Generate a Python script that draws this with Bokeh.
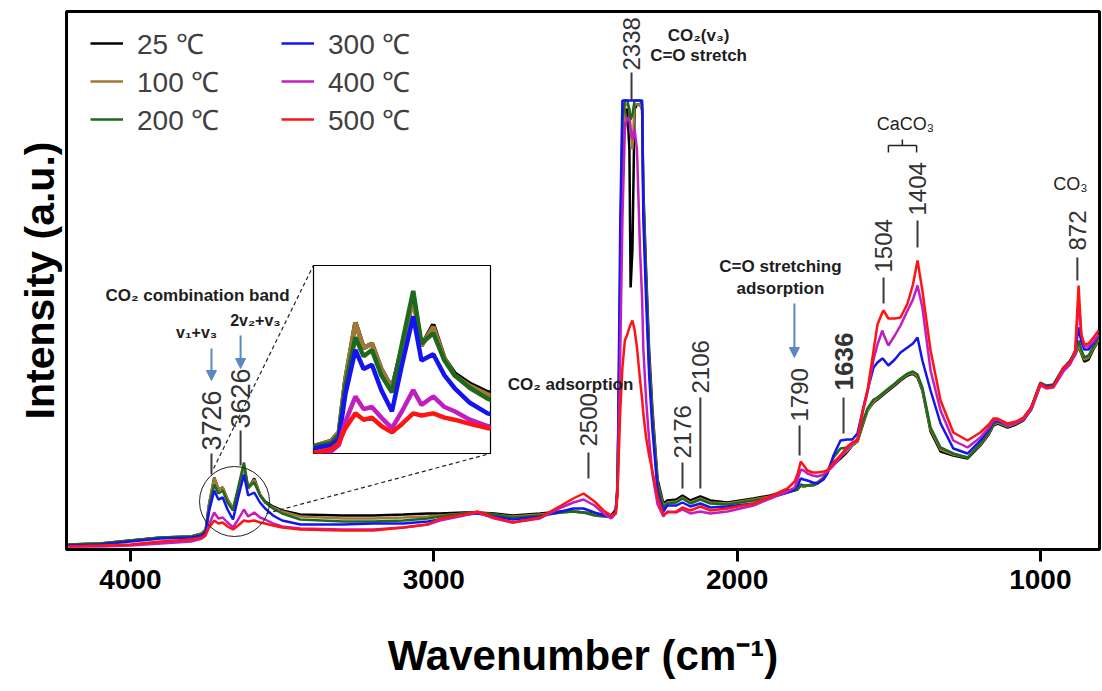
from bokeh.plotting import figure
from bokeh.models import Range1d, Legend, LegendItem, Label, Arrow, NormalHead, FixedTicker
from bokeh.layouts import column
from bokeh.embed import file_html
from bokeh.resources import INLINE

# ---------------- data ----------------
wavenumber = [4205, 4100, 4000, 3900, 3800, 3765, 3752, 3741, 3724, 3710, 3696, 3680, 3662, 3645, 3626, 3612, 3592, 3573, 3556, 3530, 3500,
              3440, 3300, 3200, 3100, 3020, 2980, 2900, 2856, 2800, 2740, 2650, 2580, 2540, 2506, 2470, 2440, 2415, 2400,
              2394, 2385, 2378, 2370, 2362, 2355, 2351, 2345, 2338, 2330, 2320, 2313, 2309, 2300, 2290, 2279, 2262, 2243,
              2230, 2200, 2180, 2154, 2121, 2088, 2032, 1946, 1890, 1834, 1810, 1800, 1790, 1780, 1768, 1750, 1735, 1715, 1702, 1682, 1659, 1636, 1620, 1603,
              1585, 1570, 1550, 1537, 1521, 1517, 1501, 1480, 1461, 1438, 1420, 1405, 1389, 1362, 1329, 1287, 1240, 1198, 1170, 1155, 1141, 1108, 1080, 1056, 1030, 1000, 980, 957, 924, 902, 885, 874, 865, 855, 841, 825, 808]

t25 = [5, 6, 9, 12, 13, 16, 20, 45, 72, 60, 62, 50, 41, 60, 84, 61, 71, 55, 48, 43, 39,
       35, 34, 34, 35, 36, 36, 37, 37, 36, 34, 36, 38, 38, 37, 36, 35, 34, 40,
       66, 250, 400, 440, 440, 400, 262, 300, 440, 445, 445, 440, 360, 280, 200, 140, 70, 46,
       49, 50, 54, 49, 53, 49, 47, 51, 54, 59, 60, 61, 64, 63, 64, 65, 67, 72, 79, 85, 91, 98, 104, 108,
       125, 139, 147, 150, 154, 155, 159, 164, 169, 174, 176, 172, 159, 118, 98, 94, 91, 104, 115, 124, 126, 122, 125, 129, 140, 165, 162, 163, 180, 187, 195, 203, 196, 188, 190, 200, 209]
t100 = [5, 6, 9, 12, 13, 16, 20, 45, 72, 60, 62, 50, 41, 60, 83, 61, 70, 55, 47, 42, 38,
        33, 31, 31, 32, 33, 34, 36, 37, 35, 33, 35, 37, 38, 37, 35, 34, 33, 38,
        62, 260, 410, 445, 445, 440, 420, 400, 445, 445, 445, 440, 350, 270, 190, 135, 66, 44,
        47, 48, 52, 47, 51, 47, 46, 50, 53, 58, 60, 61, 64, 63, 64, 65, 67, 72, 79, 86, 93, 99, 104, 108,
        126, 139, 148, 151, 155, 156, 160, 165, 170, 175, 177, 173, 160, 120, 100, 95, 92, 105, 116, 125, 127, 123, 126, 130, 141, 166, 163, 164, 181, 188, 196, 204, 197, 190, 192, 201, 210]
t200 = [5, 6, 9, 12, 13, 15, 19, 42, 65, 56, 59, 47, 39, 62, 87, 62, 67, 54, 47, 41, 36,
        30, 28, 28, 29, 31, 33, 36, 37, 35, 32, 34, 37, 38, 37, 34, 33, 33, 38,
        60, 280, 430, 449, 449, 440, 430, 435, 449, 449, 449, 445, 345, 265, 185, 130, 64, 42,
        46, 47, 51, 46, 50, 46, 45, 49, 52, 57, 59, 60, 65, 64, 64, 64, 66, 71, 78, 92, 101, 102, 106, 110,
        128, 141, 150, 152, 156, 157, 161, 166, 171, 176, 178, 175, 162, 122, 102, 96, 92, 106, 117, 126, 128, 124, 127, 131, 142, 167, 164, 165, 182, 189, 197, 209, 200, 192, 194, 203, 212]
t300 = [4, 5, 8, 11, 12, 14, 17, 38, 59, 50, 52, 40, 30, 52, 75, 54, 57, 47, 41, 34, 29,
        25, 25, 26, 26, 28, 30, 35, 36, 33, 30, 33, 38, 41, 41, 37, 34, 32, 40,
        60, 330, 449, 449, 449, 449, 449, 449, 449, 449, 449, 449, 330, 250, 175, 120, 58, 38,
        44, 44, 47, 43, 46, 42, 43, 46, 52, 57, 60, 64, 71, 70, 69, 67, 66, 70, 76, 94, 109, 110, 110, 116,
        140, 159, 182, 187, 191, 190, 184, 190, 197, 202, 206, 212, 189, 159, 126, 101, 96, 109, 120, 128, 129, 125, 127, 131, 142, 166, 163, 164, 181, 188, 199, 222, 208, 200, 200, 207, 214]
t400 = [3, 3, 4, 6, 8, 11, 14, 25, 37, 31, 32, 27, 22, 30, 40, 33, 37, 32, 30, 26, 23,
        21, 20, 20, 22, 25, 29, 34, 37, 31, 27, 31, 42, 47, 50, 44, 36, 31, 36,
        55, 200, 330, 420, 432, 430, 420, 410, 420, 400, 300, 250, 200, 150, 110, 75, 45, 33,
        38, 37, 40, 36, 38, 36, 38, 44, 51, 58, 62, 70, 80, 79, 76, 74, 73, 75, 78, 84, 92, 101, 106, 110,
        138, 157, 190, 205, 219, 215, 204, 214, 224, 239, 250, 264, 242, 179, 139, 109, 102, 112, 122, 129, 130, 124, 127, 130, 140, 164, 161, 162, 178, 185, 196, 249, 215, 203, 203, 208, 215]
t500 = [3, 4, 5, 8, 10, 12, 15, 22, 29, 26, 27, 23, 20, 24, 29, 28, 29, 27, 26, 24, 22,
        20, 19, 19, 22, 25, 31, 35, 38, 32, 27, 32, 44, 51, 56, 48, 39, 34, 36,
        59, 140, 182, 209, 215, 222, 225, 229, 220, 202, 170, 150, 136, 112, 94, 78, 52, 35,
        37, 38, 42, 39, 43, 39, 41, 46, 53, 61, 68, 76, 88, 84, 79, 77, 77, 78, 79, 87, 94, 103, 107, 109,
        140, 159, 199, 225, 237, 239, 231, 231, 232, 246, 265, 289, 259, 199, 149, 117, 109, 117, 125, 131, 131, 126, 128, 132, 142, 166, 162, 163, 182, 187, 199, 264, 215, 205, 206, 212, 219]

series_names = ["25 \u2103", "100 \u2103", "200 \u2103", "300 \u2103", "400 \u2103", "500 \u2103"]
series_values = [t25, t100, t200, t300, t400, t500]
series_colors = ["#000000", "#a07838", "#1d6a1d", "#1414f0", "#c01ec0", "#ff1414"]
x_ticks = [4000, 3000, 2000, 1000]

peak_labels = ["3726", "3626", "2500", "2338", "2176", "2106", "1790", "1636", "1504", "1404", "872"]

# ---------------- annotation positions (layout) ----------------
peak_x = [3733, 3637, 2490, 2348, 2180, 2121, 1794, 1649, 1517, 1405, 878]
peak_line_y0 = [75, 84, 71, 449, 61, 61, 94, 116, 246, 302, 269]
peak_line_y1 = [96, 119, 97, 477, 87, 152, 124, 152, 272, 329, 292]
peak_text_y = [99, 121, 103, 479, 91, 156, 128, 159, 277, 334, 299]
peak_font = ["27px", "27px", "24px", "24px", "24px", "24px", "24px", "26px", "24px", "24px", "24px"]

p = figure(width=1102, height=691, x_range=Range1d(4211, 805), y_range=Range1d(0, 538),
           output_backend="svg", toolbar_location=None,
           min_border_left=66, min_border_right=3, min_border_top=11, min_border_bottom=142)
p.background_fill_color = "white"
p.border_fill_color = "white"
p.outline_line_color = "black"
p.outline_line_width = 3
p.grid.visible = False

p.xaxis.ticker = FixedTicker(ticks=x_ticks)
p.xaxis.minor_tick_line_color = None
p.xaxis.major_tick_in = 0
p.xaxis.major_tick_out = 12
p.xaxis.major_tick_line_width = 3
p.xaxis.axis_line_width = 3
p.xaxis.major_label_standoff = 8
p.xaxis.major_label_text_font = "Liberation Sans"
p.xaxis.major_label_text_font_style = "bold"
p.xaxis.major_label_text_font_size = "28px"
p.xaxis.major_label_text_color = "black"
p.xaxis.axis_label = "Wavenumber (cm\u207b\u00b9)"
p.xaxis.axis_label_text_font = "Liberation Sans"
p.xaxis.axis_label_text_font_style = "bold"
p.xaxis.axis_label_text_font_size = "42px"
p.xaxis.axis_label_text_color = "black"
p.xaxis.axis_label_standoff = 40

p.yaxis.ticker = FixedTicker(ticks=[])
p.yaxis.major_tick_line_color = None
p.yaxis.minor_tick_line_color = None
p.yaxis.major_label_text_font_size = "0px"
p.yaxis.axis_line_width = 3
p.yaxis.axis_label = "Intensity (a.u.)"
p.yaxis.axis_label_text_font = "Liberation Sans"
p.yaxis.axis_label_text_font_style = "bold"
p.yaxis.axis_label_text_font_size = "41px"
p.yaxis.axis_label_text_color = "black"
p.yaxis.axis_label_standoff = 4

renderers = []
for vals, col in zip(series_values, series_colors):
    r = p.line(wavenumber, vals, line_width=2.5, line_color=col)
    renderers.append(r)

legend = Legend(items=[LegendItem(label=n, renderers=[r]) for n, r in zip(series_names, renderers)],
                location=(24, 411), orientation="vertical", nrows=3,
                label_text_font="Liberation Sans", label_text_font_size="28px", label_text_color="#404040",
                glyph_width=33, glyph_height=20, label_standoff=14, spacing=0, padding=0, margin=0,
                label_width=144, border_line_color=None, background_fill_alpha=0)
p.add_layout(legend)

# peak markers
p.segment(x0=peak_x, y0=peak_line_y0, x1=peak_x, y1=peak_line_y1, line_color="#3a3a3a", line_width=2)
for txt, xx, yy, fs in zip(peak_labels, peak_x, peak_text_y, peak_font):
    p.add_layout(Label(x=xx, y=yy, text=txt, angle=90, angle_units="deg", text_align="left",
                       text_baseline="middle", text_font="Liberation Sans", text_font_size=fs,
                       text_color="#333333", text_font_style="bold" if txt == "1636" else "normal"))

def blabel(x, y, text, size="17px", style="bold", color="#1e1e1e"):
    p.add_layout(Label(x=x, y=y, text=text, text_align="center", text_baseline="middle",
                       text_font="Liberation Sans", text_font_size=size, text_font_style=style,
                       text_color=color))

blabel(3779, 254, "CO\u2082 combination band")
blabel(3782, 217, "v\u2081+v\u2083", "16px")
blabel(3588, 229, "2v\u2082+v\u2083", "16px")
blabel(2549, 165, "CO\u2082 adsorption")
blabel(2127, 514, "CO\u2082(v\u2083)", "17px")
blabel(2127, 494, "C=O stretch")
blabel(1857, 283, "C=O stretching")
blabel(1857, 261, "adsorption")
blabel(1445, 426, "CaCO\u2083", "18px", "normal")
blabel(901, 366, "CO\u2083", "18px", "normal")

arrow_col = "#5a88c0"
for xs, ys, ye in [(3733, 201, 169), (3637, 214, 181), (1811, 246, 192)]:
    p.add_layout(Arrow(end=NormalHead(size=10, fill_color=arrow_col, line_color=arrow_col),
                       x_start=xs, y_start=ys, x_end=xs, y_end=ye,
                       line_color=arrow_col, line_width=2))

# CaCO3 bracket
p.segment(x0=[1501, 1501, 1408, 1455], y0=[404, 404, 404, 404],
          x1=[1408, 1501, 1408, 1455], y1=[404, 397, 397, 410], line_color="#222222", line_width=1.5)

# zoom circle and dashed guide lines
p.scatter(x=[3657], y=[48], size=70, marker="circle", fill_color=None, line_color="#222222", line_width=1)
p.segment(x0=[3726, 3552], y0=[81, 36], x1=[3397, 2813], y1=[284, 96],
          line_color="#222222", line_width=1.2, line_dash="4 3")

# inset (frame aligned with the main plot inside the column, so give it the same side borders)
inset = figure(width=246, height=190, x_range=Range1d(3795, 3495), y_range=Range1d(10, 99),
               output_backend="svg", toolbar_location=None, x_axis_type=None, y_axis_type=None,
               min_border_left=66, min_border_right=3, min_border_top=1, min_border_bottom=1,
               styles={"position": "absolute", "left": "247px", "top": "264px"})
inset.grid.visible = False
inset.outline_line_color = "black"
inset.outline_line_width = 1.2
inset.background_fill_color = "white"
inset.border_fill_alpha = 0
for vals, col in zip(series_values, series_colors):
    inset.line(wavenumber, vals, line_width=4.5, line_color=col)

layout = column(p, inset, spacing=0)
open("out.html", "w").write(file_html(layout, INLINE))
